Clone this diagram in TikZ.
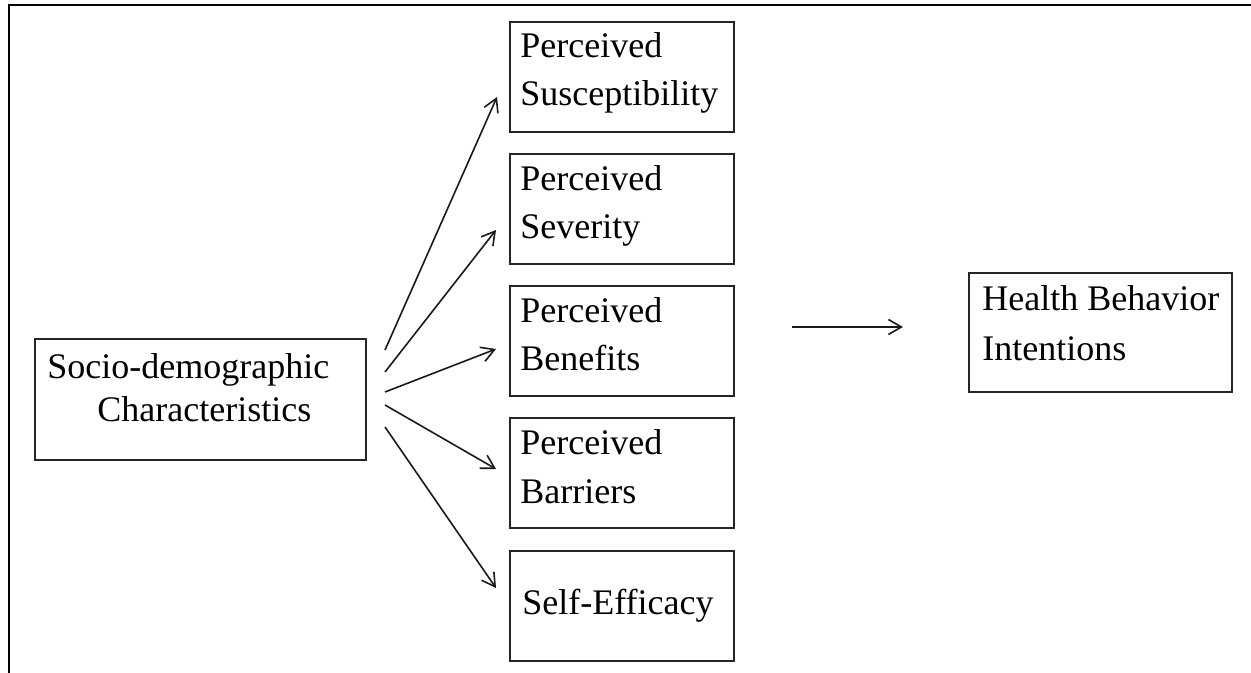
\documentclass[tikz,border=0pt]{standalone}
\usepackage{fontspec}
\setmainfont{Liberation Serif}
\usetikzlibrary{arrows.meta}
\begin{document}
\begin{tikzpicture}[x=0.5pt,y=-0.5pt,
  box/.style={draw=black!85,line width=0.9pt,minimum width=224*0.5pt,minimum height=110*0.5pt,inner sep=0pt,anchor=north west},
  txt/.style={inner sep=0pt,anchor=base west,font=\fontsize{18}{21}\selectfont},
  conn/.style={line width=0.8pt,black!90,-{Straight Barb[length=6.5pt,width=7.5pt,line width=0.8pt]}}]
\useasboundingbox (0,0) rectangle (1251,673);
% frame
\draw[line width=1.2pt] (9,673) -- (9,5) -- (1251,5);
% boxes
\node[box,minimum width=331*0.5pt,minimum height=121*0.5pt] (socio) at (34,338) {};
\node[box] (sus) at (509,21) {};
\node[box] (sev) at (509,153) {};
\node[box] (ben) at (509,285) {};
\node[box] (bar) at (509,417) {};
\node[box] (eff) at (509,550) {};
\node[box,minimum width=263*0.5pt,minimum height=119*0.5pt] (hbi) at (968,272) {};
% texts
\node[txt] (t1) at (47,378) {Socio-demographic};
\node[txt] (t2) at (97,421) {Characteristics};
\node[txt] (t3) at (520,57.5) {Perceived};
\node[txt] (t4) at (520,106) {Susceptibility};
\node[txt] (t5) at (520,190.5) {Perceived};
\node[txt] (t6) at (520,239) {Severity};
\node[txt] (t7) at (520,322.5) {Perceived};
\node[txt] (t8) at (520,371) {Benefits};
\node[txt] (t9) at (520,454.5) {Perceived};
\node[txt] (t10) at (520,503) {Barriers};
\node[txt] (t11) at (522,614) {Self-Efficacy};
\node[txt] (t12) at (982,310.5) {Health Behavior};
\node[txt] (t13) at (982,360) {Intentions};
% connector endpoints
\coordinate (s1) at (385,350);
\coordinate (s2) at (385,372);
\coordinate (s3) at (385,392);
\coordinate (s4) at (385,405);
\coordinate (s5) at (385,427);
\coordinate (e1) at (497,97);
\coordinate (e2) at (496,230);
\coordinate (e3) at (496,349);
\coordinate (e4) at (496,469);
\coordinate (e5) at (496,588);
\coordinate (m1) at (792,327);
\coordinate (m2) at (903,327);
\draw[conn] (s1) -- (e1);
\draw[conn] (s2) -- (e2);
\draw[conn] (s3) -- (e3);
\draw[conn] (s4) -- (e4);
\draw[conn] (s5) -- (e5);
\draw[conn] (m1) -- (m2);
\end{tikzpicture}
\end{document}
